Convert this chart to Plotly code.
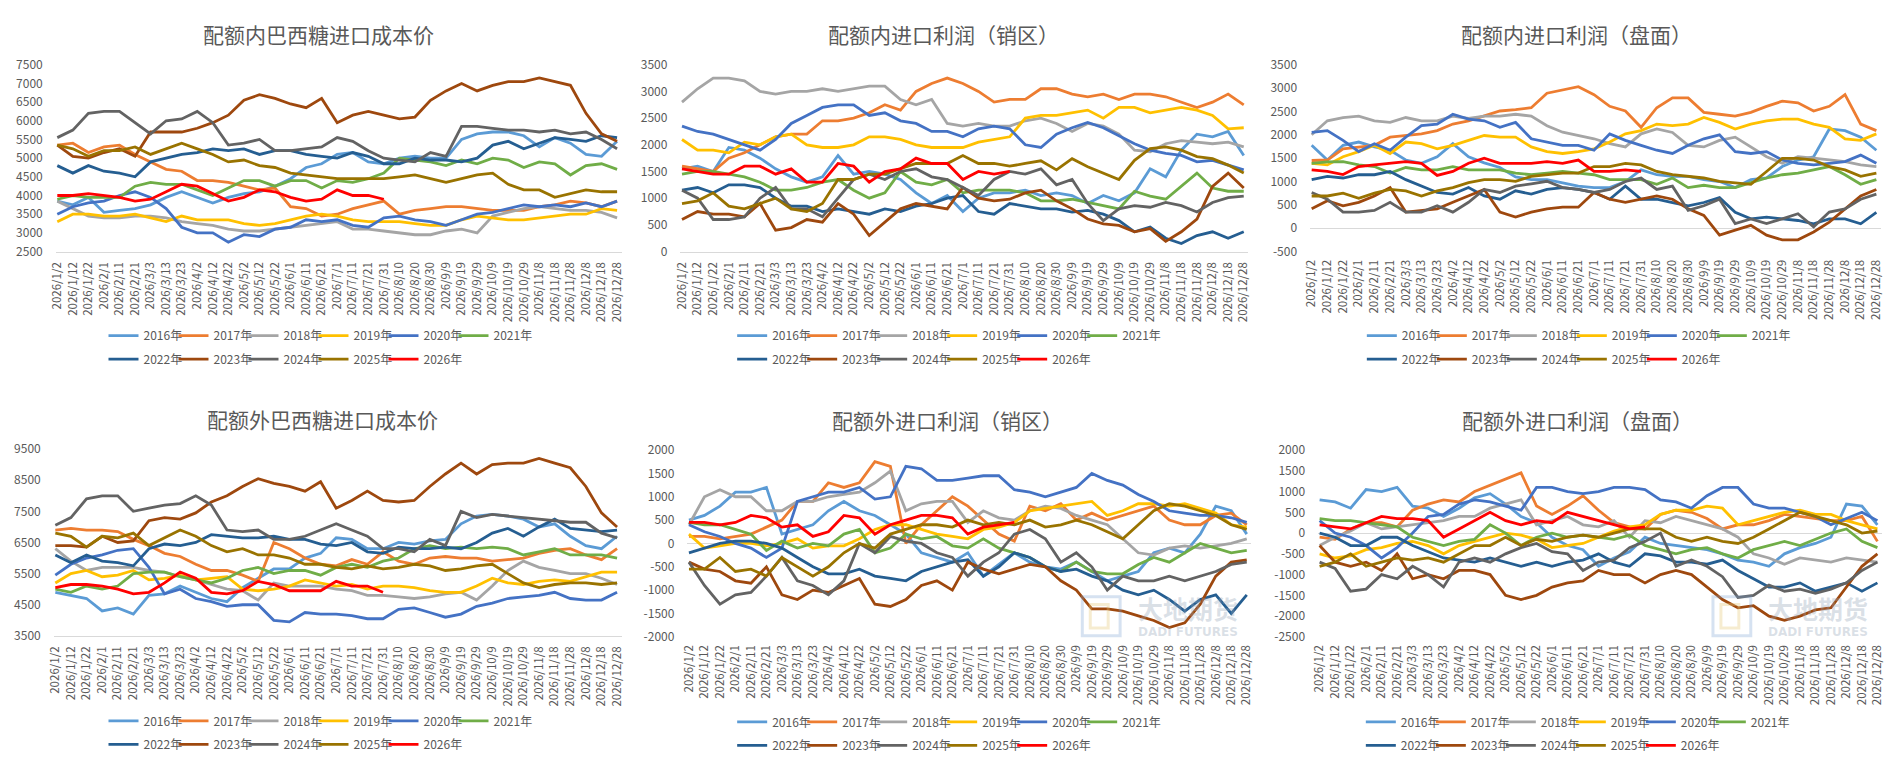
import plotly.graph_objects as go

W, H = 1898, 770
FONT = "Noto Sans CJK SC, Noto Sans, sans-serif"
TXT = "#595959"

dates = ["2026-01-02", "2026-01-12", "2026-01-22", "2026-02-01", "2026-02-11", "2026-02-21",
         "2026-03-03", "2026-03-13", "2026-03-23", "2026-04-02", "2026-04-12", "2026-04-22",
         "2026-05-02", "2026-05-12", "2026-05-22", "2026-06-01", "2026-06-11", "2026-06-21",
         "2026-07-01", "2026-07-11", "2026-07-21", "2026-07-31", "2026-08-10", "2026-08-20",
         "2026-08-30", "2026-09-09", "2026-09-19", "2026-09-29", "2026-10-09", "2026-10-19",
         "2026-10-29", "2026-11-08", "2026-11-18", "2026-11-28", "2026-12-08", "2026-12-18",
         "2026-12-28"]
tick_labels = ["2026/1/2", "2026/1/12", "2026/1/22", "2026/2/1", "2026/2/11", "2026/2/21",
               "2026/3/3", "2026/3/13", "2026/3/23", "2026/4/2", "2026/4/12", "2026/4/22",
               "2026/5/2", "2026/5/12", "2026/5/22", "2026/6/1", "2026/6/11", "2026/6/21",
               "2026/7/1", "2026/7/11", "2026/7/21", "2026/7/31", "2026/8/10", "2026/8/20",
               "2026/8/30", "2026/9/9", "2026/9/19", "2026/9/29", "2026/10/9", "2026/10/19",
               "2026/10/29", "2026/11/8", "2026/11/18", "2026/11/28", "2026/12/8", "2026/12/18",
               "2026/12/28"]
years = ["2016年", "2017年", "2018年", "2019年", "2020年", "2021年",
         "2022年", "2023年", "2024年", "2025年", "2026年"]
colors = ["#5B9BD5", "#ED7D31", "#A5A5A5", "#FFC000", "#4472C4", "#70AD47",
          "#255E91", "#9E480E", "#636363", "#997300", "#FF0000"]

# ---------- 配额内巴西糖进口成本价 ----------
c1_2016 = [3850,3750,3950,3550,3600,3650,3750,3950,4100,3950,3800,3950,4050,4100,4250,4450,4750,4850,5100,5150,4900,4850,5000,5050,5000,5000,5500,5650,5700,5700,5600,5300,5550,5400,5100,5050,5450]
c1_2017 = [5350,5400,5150,5300,5350,5100,4900,4700,4650,4400,4400,4350,4250,4150,4200,3700,3650,3450,3500,3650,3750,3850,3500,3600,3650,3700,3700,3650,3600,3600,3600,3700,3750,3850,3800,3700,3850]
c1_2018 = [3850,3650,3450,3400,3400,3450,3450,3400,3300,3250,3200,3100,3050,3050,3100,3150,3200,3250,3300,3100,3100,3050,3000,2950,2950,3050,3100,3000,3450,3550,3650,3700,3650,3600,3600,3550,3400]
c1_2019 = [3300,3500,3500,3450,3450,3500,3400,3300,3450,3350,3350,3350,3250,3200,3250,3350,3450,3500,3450,3350,3300,3300,3300,3250,3200,3200,3350,3450,3400,3350,3350,3400,3450,3500,3500,3650,3600]
c1_2020 = [3500,3700,3800,3850,4000,4100,3950,3650,3150,3000,3000,2750,2950,2900,3100,3150,3350,3300,3350,3200,3150,3400,3450,3350,3300,3200,3350,3500,3550,3650,3750,3700,3750,3700,3800,3700,3850]
c1_2021 = [3900,4000,3950,3950,3950,4250,4350,4300,4300,4150,4000,4200,4400,4400,4250,4400,4400,4200,4400,4350,4450,4600,5000,4950,4900,4800,4950,4850,5000,4950,4750,4900,4850,4550,4800,4850,4700]
c1_2022 = [4800,4600,4800,4650,4600,4500,4900,5000,5100,5150,5250,5200,5250,5100,5200,5200,5100,5050,5000,5150,5050,4850,4850,5000,4950,4950,4900,5000,5350,5450,5250,5400,5550,5500,5450,5600,5550]
c1_2023 = [5350,5050,5000,5150,5250,5050,5700,5700,5700,5800,5950,6150,6550,6700,6600,6450,6350,6600,5950,6150,6250,6150,6050,6100,6550,6800,7000,6800,6950,7050,7050,7150,7050,6950,6200,5650,5450]
c1_2024 = [5550,5750,6200,6250,6250,5950,5650,6000,6050,6250,5950,5350,5400,5500,5200,5200,5250,5300,5550,5450,5200,5000,4950,4900,5150,5050,5850,5850,5800,5750,5750,5700,5750,5650,5700,5500,5250]
c1_2025 = [5350,5250,5050,5200,5200,5300,5100,5250,5400,5250,5100,4900,4950,4800,4750,4600,4550,4500,4450,4450,4450,4450,4500,4550,4450,4350,4450,4550,4600,4300,4150,4150,3950,4050,4150,4100,4100]
c1_2026 = [4000,4000,4050,4000,3950,3850,3900,4100,4300,4250,4050,3850,3950,4150,4100,3950,3850,3900,4150,4000,4000,3900]

# ---------- 配额内进口利润（销区） ----------
c2_2016 = [1550,1600,1500,1950,1900,1750,1550,1400,1300,1400,1800,1450,1500,1450,1350,1100,900,1050,750,1000,1100,1100,1150,1050,1100,1050,900,1050,950,1100,1550,1400,1900,2200,2150,2250,1800]
c2_2017 = [1600,1550,1500,1750,1850,2000,2150,2200,2200,2450,2450,2500,2600,2750,2650,3000,3150,3250,3150,3000,2800,2850,2850,3050,3050,2950,2900,2950,2850,2950,2950,2900,2800,2700,2800,2950,2750]
c2_2018 = [2800,3050,3250,3250,3200,3000,2950,3000,3000,3050,3000,3050,3100,3100,2850,2750,2850,2400,2350,2400,2350,2350,2450,2500,2400,2250,2400,2350,2200,1900,1870,2020,2080,2050,2020,2050,1960]
c2_2019 = [2100,1900,1900,1850,2050,2000,2150,2200,2000,1950,1950,2000,2150,2150,2100,2000,1950,1950,1950,2050,2100,2150,2500,2550,2550,2600,2650,2500,2700,2700,2600,2650,2700,2650,2550,2300,2320]
c2_2020 = [2350,2250,2200,2100,2000,1900,2100,2400,2550,2700,2750,2750,2550,2600,2450,2400,2250,2250,2150,2300,2350,2300,2000,1950,2200,2320,2420,2320,2170,2020,1900,1840,1800,1680,1710,1620,1530]
c2_2021 = [1450,1500,1500,1450,1400,1300,1150,1150,1200,1300,1350,1150,1000,1100,1500,1300,1250,1350,1100,1150,1150,1150,1100,950,950,980,920,860,800,1130,1040,980,1220,1470,1190,1130,1130]
c2_2022 = [1150,1200,1100,1250,1250,1200,1000,850,850,750,800,750,700,800,750,850,900,1000,1050,750,700,900,850,800,800,740,770,700,580,370,460,250,150,300,370,250,370]
c2_2023 = [600,750,700,700,650,900,400,450,600,550,900,700,300,550,800,900,850,800,1200,1000,950,980,1100,1150,950,800,610,520,490,370,430,190,370,610,1220,1470,1190]
c2_2024 = [1150,1000,600,600,650,1000,1200,800,800,650,1000,1350,1450,1350,1500,1550,1400,1350,1200,1050,1350,1500,1450,1550,1250,1350,900,580,800,860,830,920,860,740,920,1010,1040]
c2_2025 = [900,950,1100,850,800,900,1000,800,750,900,1350,1350,1450,1450,1550,1650,1650,1650,1800,1650,1650,1600,1650,1700,1530,1740,1590,1470,1350,1710,1930,1960,1900,1780,1740,1620,1470]
c2_2026 = [1550,1500,1450,1450,1600,1600,1450,1550,1300,1300,1650,1600,1300,1500,1550,1750,1650,1650,1350,1500,1450,1500]

# ---------- 配额内进口利润（盘面） ----------
c3_2016 = [1775,1460,1775,1845,1740,1670,1460,1390,1530,1810,1530,1400,1300,1100,1040,1040,970,900,870,870,1000,1250,1145,1110,1110,1040,1000,870,1040,1075,1320,1460,1530,2125,2090,1950,1670]
c3_2017 = [1450,1460,1700,1740,1775,1950,1985,2020,2090,2230,2300,2400,2510,2540,2580,2890,2960,3030,2860,2610,2510,2160,2580,2790,2790,2480,2440,2400,2480,2610,2720,2685,2510,2610,2860,2230,2090]
c3_2018 = [2000,2300,2370,2400,2300,2265,2370,2300,2300,2400,2350,2400,2400,2440,2400,2195,2055,1985,1915,1810,1740,2020,2125,2050,1775,1740,1880,1950,1740,1530,1390,1530,1500,1460,1425,1355,1320]
c3_2019 = [1390,1355,1530,1640,1775,1600,1845,1810,1700,1775,1880,1985,1950,1950,1740,1640,1600,1640,1700,1845,2020,2090,2230,2195,2230,2370,2265,2125,2230,2300,2335,2335,2230,2160,1915,1880,2020]
c3_2020 = [2050,2090,1880,1640,1810,1670,1950,2195,2230,2440,2335,2300,2160,2265,1915,1845,1775,1775,1670,2020,1880,1775,1670,1600,1775,1915,2000,1640,1600,1640,1460,1390,1355,1390,1425,1565,1390]
c3_2021 = [1390,1420,1425,1355,1320,1180,1300,1250,1250,1320,1250,1250,1250,1180,1145,1180,1215,1180,1145,1040,1040,1040,940,1075,870,920,870,870,975,1075,1145,1180,1250,1320,1145,940,1040]
c3_2022 = [1040,1110,1075,1145,1145,1215,1040,900,765,730,870,690,620,800,730,830,870,830,765,620,900,620,620,550,480,550,655,340,200,235,200,165,95,200,200,95,340]
c3_2023 = [415,590,480,555,690,870,345,380,415,555,690,830,345,240,345,415,450,450,765,620,555,620,690,620,415,275,-150,-40,60,-150,-250,-250,-80,130,415,690,830]
c3_2024 = [765,620,345,345,380,555,345,345,480,345,555,830,765,900,950,1005,870,830,765,830,1000,1075,830,900,380,480,620,100,200,100,200,310,30,345,415,620,730]
c3_2025 = [690,690,750,640,750,830,800,690,800,870,975,1040,1040,1005,1110,1145,1180,1180,1320,1320,1390,1355,1215,1145,1110,1075,1005,975,940,1215,1495,1495,1460,1320,1250,1110,1180]
c3_2026 = [1250,1215,1150,1320,1355,1390,1425,1390,1130,1215,1390,1500,1390,1390,1390,1425,1390,1460,1215,1215,1250,1215]

# ---------- 配额外巴西糖进口成本价 ----------
c4_2016 = [4900,4800,4700,4300,4400,4200,4800,4850,5100,4900,4700,4600,5050,5350,5650,5650,6000,6150,6650,6600,6300,6300,6500,6450,6550,6600,7100,7350,7400,7350,7250,7000,7100,6700,6400,6300,6700]
c4_2017 = [6900,6950,6900,6900,6850,6600,6400,6150,6050,5800,5600,5600,5450,5250,6500,6300,6000,5800,5750,5950,5800,6200,5900,5800,6000,6050,6000,6000,5900,5950,6000,6150,6250,6300,6100,5950,6300]
c4_2018 = [6300,5900,5600,5700,5700,5700,5600,5550,5400,5300,5150,5000,4950,4650,5200,5100,5100,5100,5000,4950,4800,4800,4750,4700,4750,4850,4900,4650,5100,5600,5900,5700,5600,5500,5500,5350,5150]
c4_2019 = [5200,5500,5600,5400,5450,5600,5300,5350,5450,5300,5350,5400,5000,4950,5000,5100,5300,5200,5100,5150,5000,5100,5100,5050,4950,4900,4900,5100,5350,5200,5150,5250,5300,5250,5400,5550,5550]
c4_2020 = [5450,5800,6000,6100,6250,6300,5700,4850,5000,4700,4600,4450,4500,4500,4000,3950,4250,4200,4200,4150,4050,4050,4350,4400,4250,4100,4200,4450,4550,4700,4750,4800,4900,4700,4650,4650,4900]
c4_2021 = [5000,4900,5100,5000,5100,5500,5550,5550,5400,5300,5200,5350,5600,5700,5500,5600,5600,5450,5700,5800,5700,5900,6000,6300,6400,6300,6350,6300,6350,6300,6100,6200,6300,6100,6100,6100,6000]
c4_2022 = [6100,5850,6100,5900,5850,5750,6300,6450,6400,6500,6750,6700,6650,6650,6700,6600,6600,6450,6400,6500,6200,6150,6350,6300,6300,6350,6300,6500,6800,6950,6700,7000,7250,6950,6900,6850,6900]
c4_2023 = [6400,6400,6350,6700,6500,6550,7200,7300,7250,7450,7800,8000,8300,8550,8400,8300,8150,8450,7600,7850,8150,7850,7800,7850,8300,8700,9050,8700,9000,9050,9050,9200,9050,8900,8300,7450,7000]
c4_2024 = [7050,7300,7900,8000,8000,7500,7600,7700,7750,8000,7700,6900,6850,6900,6600,6600,6700,6900,7100,6900,6700,6300,6300,6200,6600,6400,7500,7300,7400,7350,7300,7250,7200,7150,7150,6800,6650]
c4_2025 = [6800,6700,6350,6700,6650,6800,6400,6650,6900,6700,6400,6200,6300,6100,6100,6000,5800,5800,5700,5650,5750,5650,5700,5800,5750,5600,5650,5750,5800,5500,5200,5050,5150,5200,5200,5150,5200]
c4_2026 = [5050,5150,5150,5100,5000,4850,4900,5200,5550,5350,4900,4850,4950,5250,5150,4950,4950,4950,5250,5100,5100,4900]

# ---------- 配额外进口利润（销区） ----------
c5_2016 = [500,600,800,1100,1100,1200,200,300,400,700,900,700,600,400,200,-200,-300,-400,-200,-700,-450,-200,-400,-500,-550,-400,-600,-800,-700,-600,-200,-100,-200,200,800,700,200]
c5_2017 = [150,150,100,150,200,350,500,900,900,1300,1200,1300,1750,1650,0,400,700,1000,800,500,200,50,800,700,850,500,650,500,600,700,800,500,400,400,600,650,400]
c5_2018 = [400,1000,1150,1000,1000,700,700,900,900,1000,1050,1100,1300,1550,700,850,900,900,450,700,550,500,700,800,750,600,500,400,100,-200,-250,-100,-50,-100,-50,0,100]
c5_2019 = [200,-100,-50,0,0,-50,0,100,-100,-50,-50,100,300,400,400,300,200,150,100,300,350,450,700,750,800,850,900,600,700,850,850,800,850,750,650,400,350]
c5_2020 = [400,250,150,0,-100,-300,-100,900,1000,1100,1100,1200,950,1000,1650,1600,1350,1350,1400,1450,1450,1150,1100,1000,1100,1200,1500,1350,1250,1050,900,700,650,600,600,550,450]
c5_2021 = [450,400,400,300,200,-150,50,-100,0,-50,200,300,-200,-100,200,100,150,-50,-100,100,-100,-200,-300,-500,-600,-400,-600,-650,-650,-450,-300,-400,-200,0,-100,-200,-150]
c5_2022 = [-200,-100,0,50,50,0,-100,-300,-500,-650,-650,-550,-700,-750,-800,-600,-500,-400,-350,-700,-500,-200,-300,-500,-600,-550,-700,-800,-1000,-1100,-1000,-1200,-1450,-1200,-1100,-1500,-1100]
c5_2023 = [-400,-550,-600,-800,-850,-500,-1100,-1200,-1000,-1050,-900,-750,-1300,-1350,-1200,-900,-800,-1000,-400,-550,-650,-550,-450,-500,-800,-1000,-1400,-1400,-1450,-1550,-1650,-1800,-1700,-1300,-700,-400,-350]
c5_2024 = [-400,-900,-1300,-1100,-1050,-700,-300,-800,-900,-1100,-800,0,-200,150,50,0,-200,-300,-700,-400,-200,200,300,100,-400,-200,-500,-1000,-700,-800,-800,-700,-800,-700,-600,-450,-400]
c5_2025 = [-550,-550,-300,-600,-550,-700,-300,-500,-700,-500,-200,0,-100,200,300,400,400,350,500,400,450,400,500,350,400,500,400,250,100,400,700,850,800,700,600,400,300]
c5_2026 = [450,450,400,450,600,550,350,400,150,250,600,550,200,400,500,600,600,550,200,350,400,450]

# ---------- 配额外进口利润（盘面） ----------
c6_2016 = [800,750,600,1050,1000,1100,650,600,400,600,850,950,700,400,250,-100,-300,-400,-800,-600,-450,-100,-250,-300,-350,-400,-500,-650,-700,-800,-500,-350,-250,-100,700,650,200]
c6_2017 = [-100,-150,100,250,250,150,550,700,800,750,1000,1150,1300,1450,650,450,650,900,550,250,150,100,450,550,500,350,100,200,200,300,450,400,350,300,300,400,-200]
c6_2018 = [-300,-100,50,250,100,150,200,250,300,400,400,600,700,800,200,300,400,200,150,300,-100,300,250,400,300,200,100,-100,-500,-600,-750,-600,-650,-700,-600,-650,-700]
c6_2019 = [-500,-600,-550,-400,-350,-250,-200,-300,-500,-300,-200,-100,0,-50,-150,-350,-300,-250,-100,50,150,200,450,550,550,650,600,200,300,400,500,550,450,450,300,200,100]
c6_2020 = [300,0,-100,-300,-600,-350,0,400,450,700,800,750,650,550,1100,1100,1000,950,1000,1100,1100,1050,800,750,600,900,1100,1100,700,600,600,500,400,200,350,500,300]
c6_2021 = [350,300,300,250,200,150,-100,-200,-300,-200,-150,200,0,-300,-100,0,-100,-50,-100,-150,-50,-300,-400,-500,-400,-350,-500,-600,-400,-300,-200,-300,-150,0,100,-200,-350]
c6_2022 = [0,-100,-300,-300,-100,-100,-300,-450,-600,-650,-700,-600,-700,-800,-700,-800,-700,-650,-500,-700,-800,-500,-550,-700,-700,-750,-650,-900,-1100,-1300,-1300,-1200,-1400,-1300,-1200,-1400,-1200]
c6_2023 = [-300,-700,-800,-700,-900,-500,-1100,-1000,-1100,-900,-900,-1000,-1500,-1600,-1500,-1300,-1200,-1150,-900,-1000,-1000,-1200,-1000,-900,-1000,-1300,-1600,-1800,-1750,-2000,-2100,-2000,-1850,-1800,-1300,-800,-500]
c6_2024 = [-700,-850,-1400,-1350,-1000,-1100,-800,-1000,-1300,-700,-600,-700,-500,-350,-250,-450,-500,-900,-700,-650,-350,-200,0,-800,-650,-800,-1050,-1550,-1500,-1250,-1400,-1350,-1450,-1350,-1200,-900,-700]
c6_2025 = [-800,-700,-500,-800,-700,-600,-650,-600,-700,-500,-300,-300,-100,-300,-150,-200,-100,-50,-100,0,100,100,100,-100,-200,-100,-200,-250,-100,100,300,500,400,300,200,0,50]
c6_2026 = [200,150,100,250,400,350,350,300,-100,100,300,500,300,200,300,250,500,400,300,200,100,150]

titles = ["配额内巴西糖进口成本价", "配额内进口利润（销区）", "配额内进口利润（盘面）",
          "配额外巴西糖进口成本价", "配额外进口利润（销区）", "配额外进口利润（盘面）"]
series_sets = [
    [c1_2016, c1_2017, c1_2018, c1_2019, c1_2020, c1_2021, c1_2022, c1_2023, c1_2024, c1_2025, c1_2026],
    [c2_2016, c2_2017, c2_2018, c2_2019, c2_2020, c2_2021, c2_2022, c2_2023, c2_2024, c2_2025, c2_2026],
    [c3_2016, c3_2017, c3_2018, c3_2019, c3_2020, c3_2021, c3_2022, c3_2023, c3_2024, c3_2025, c3_2026],
    [c4_2016, c4_2017, c4_2018, c4_2019, c4_2020, c4_2021, c4_2022, c4_2023, c4_2024, c4_2025, c4_2026],
    [c5_2016, c5_2017, c5_2018, c5_2019, c5_2020, c5_2021, c5_2022, c5_2023, c5_2024, c5_2025, c5_2026],
    [c6_2016, c6_2017, c6_2018, c6_2019, c6_2020, c6_2021, c6_2022, c6_2023, c6_2024, c6_2025, c6_2026],
]
y_ranges = [(2500, 7500, 500), (0, 3500, 500), (-500, 3500, 500),
            (3500, 9500, 1000), (-2000, 2000, 500), (-2500, 2000, 500)]

# layout geometry in pixels (left, right, top, bottom), title centre, legend start
boxes = [(48, 617, 56, 247), (676, 1247, 56, 247), (1309, 1883, 56, 247),
         (46, 617, 449, 640), (683, 1250, 450, 641), (1317, 1884, 450, 641)]
title_pos = [(312, 25), (940, 25), (1577, 25), (316, 418), (944, 419), (1578, 419)]
legend_pos = [(109, 333, 357), (741, 333, 357), (1374, 333, 357),
              (109, 727, 751), (741, 728, 752), (1373, 728, 752)]
zero_line = [False, False, True, False, True, True]


def px(x):
    return x / W


def py(y):
    return 1 - y / H


fig = go.Figure()
layout = dict(width=W, height=H, margin=dict(l=0, r=0, t=0, b=0), autosize=False,
              paper_bgcolor="white", plot_bgcolor="white", showlegend=True,
              font=dict(family=FONT, color=TXT), annotations=[], shapes=[])

for i in range(6):
    n = i + 1
    xa = "x" if n == 1 else f"x{n}"
    ya = "y" if n == 1 else f"y{n}"
    leg1 = "legend" if n == 1 else f"legend{2 * n - 1}"
    leg2 = f"legend{2 * n}"
    for k, vals in enumerate(series_sets[i]):
        fig.add_trace(go.Scatter(
            x=dates[:len(vals)], y=vals, mode="lines", name=years[k],
            line=dict(color=colors[k], width=2.8), xaxis=xa, yaxis=ya,
            legend=leg1 if k < 6 else leg2, hoverinfo="skip",
            legendwidth=45 if k in (5, 10) else None))
    l, r, t, b = boxes[i]
    ymin, ymax, dt = y_ranges[i]
    yt = list(range(ymin, ymax + 1, dt))
    layout["xaxis" if n == 1 else f"xaxis{n}"] = dict(
        domain=[px(l), px(r)], anchor=ya, type="date",
        range=["2026-01-01", "2026-12-31"], tickmode="array",
        tickvals=dates, ticktext=tick_labels, tickangle=-90,
        tickfont=dict(size=11.5, color=TXT, family=FONT), showgrid=False,
        zeroline=False, showline=not zero_line[i], linecolor="#D9D9D9", linewidth=1,
        ticks="", ticklabelstandoff=5, fixedrange=True)
    layout["yaxis" if n == 1 else f"yaxis{n}"] = dict(
        domain=[py(b), py(t)], anchor=xa, range=[ymin, ymax], tickmode="array",
        tickvals=yt, ticktext=[str(v) for v in yt],
        tickfont=dict(size=12, color=TXT, family=FONT), showgrid=False,
        zeroline=zero_line[i], zerolinecolor="#D9D9D9", zerolinewidth=1,
        showline=False, ticks="", ticklabelstandoff=12, fixedrange=True)
    tx, ty = title_pos[i]
    layout["annotations"].append(dict(
        text=titles[i], x=px(tx), y=py(ty), xref="paper", yref="paper",
        xanchor="center", yanchor="middle", showarrow=False,
        font=dict(size=21, color=TXT, family=FONT)))
    lx, ly1, ly2 = legend_pos[i]
    for name, yy in ((leg1, ly1), (leg2, ly2)):
        layout[name] = dict(orientation="h", x=px(lx - 13), y=py(yy), xanchor="left",
                            yanchor="middle", entrywidth=25, entrywidthmode="pixels",
                            font=dict(size=12, color=TXT, family=FONT),
                            bgcolor="rgba(0,0,0,0)", borderwidth=0, traceorder="normal")

# watermark (大地期货) in the two lower right-hand charts
for cx in (1186, 1820):
    layout["annotations"].append(dict(
        text="<b>大地期货</b>", x=px(cx), y=py(611), xref="paper", yref="paper",
        xanchor="center", yanchor="middle", showarrow=False, borderpad=0,
        font=dict(size=25, color="rgba(150,165,185,0.35)", family=FONT)))
    layout["annotations"].append(dict(
        text="<b>DADI FUTURES</b>", x=px(cx), y=py(636), xref="paper", yref="paper",
        xanchor="center", yanchor="middle", showarrow=False, borderpad=0,
        font=dict(size=12, color="rgba(150,165,185,0.35)", family="DejaVu Sans")))
    layout["shapes"].append(dict(
        type="rect", xref="paper", yref="paper", x0=px(cx - 106), x1=px(cx - 68),
        y0=py(640), y1=py(600), line=dict(color="rgba(120,160,210,0.3)", width=3),
        fillcolor="rgba(0,0,0,0)"))
    layout["shapes"].append(dict(
        type="rect", xref="paper", yref="paper", x0=px(cx - 98), x1=px(cx - 80),
        y0=py(632), y1=py(608), line=dict(color="rgba(230,200,120,0.35)", width=3),
        fillcolor="rgba(0,0,0,0)"))

fig.update_layout(**layout)
fig.write_html("out.html", config={"displayModeBar": False},
               post_script="document.body.style.margin='0';document.body.style.overflow='hidden';")
